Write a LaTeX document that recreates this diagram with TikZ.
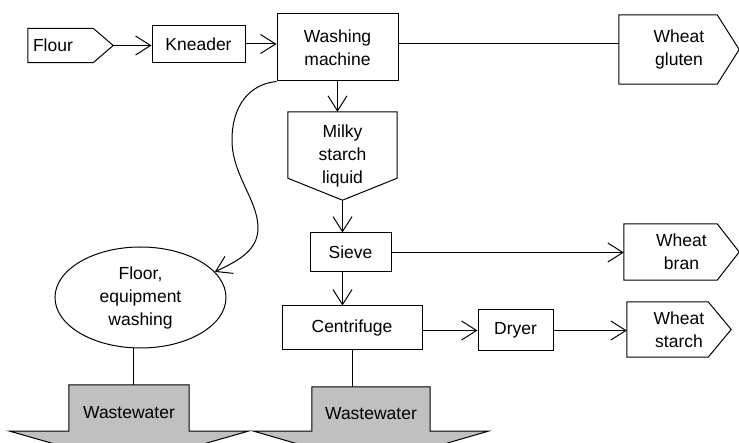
\documentclass[tikz,border=0pt]{standalone}
\usepackage{fontspec}
\setmainfont{Liberation Sans}
\usetikzlibrary{arrows.meta,calc,backgrounds,shapes.geometric}
\definecolor{flowink}{HTML}{000000}
\definecolor{wastegray}{HTML}{C0C0C0}
\tikzset{
  flowtext/.style={font=\fontsize{17.5}{23}\selectfont, text=flowink, align=center, inner sep=0pt},
  unitbox/.style={flowtext, draw=flowink, line width=1pt},
  tagbox/.style={flowtext},
  drainbox/.style={flowtext, text height=22pt, text depth=0pt},
  ovalbox/.style={flowtext, ellipse, draw=flowink, line width=1pt},
  tagline/.style={draw=flowink, line width=1pt, line join=miter},
  wasteline/.style={draw=flowink, fill=wastegray, line width=1pt},
  flowline/.style={draw=flowink, line width=1pt},
  flowarrow/.style={-{Straight Barb[length=15pt, width=19pt]}, draw=flowink, line width=1pt}
}

\begin{document}
\begin{tikzpicture}[x=1pt,y=-1pt]
  \useasboundingbox (0,0) rectangle (739,443);
  % process units
  \node[tagbox, minimum width=85pt, minimum height=34pt, text width=75pt, align=left] (flour) at (70.5,45.5) {Flour};
  \node[unitbox, minimum width=93pt, minimum height=37pt] (kneader) at (198.5,44) {Kneader};
  \node[unitbox, minimum width=121pt, minimum height=67pt] (washing) at (337.5,47.5) {Washing\\machine};
  \node[tagbox, minimum width=120pt, minimum height=69pt] (gluten) at (679,49.5) {Wheat\\gluten};
  \node[tagbox, minimum width=109pt, minimum height=88pt] (milky) at (342.5,156) {Milky\\starch\\liquid};
  \node[unitbox, minimum width=81pt, minimum height=39pt] (sieve) at (350.5,252.5) {Sieve};
  \node[tagbox, minimum width=115pt, minimum height=56pt] (bran) at (681.5,252) {Wheat\\bran};
  \node[unitbox, minimum width=140pt, minimum height=44pt] (centrifuge) at (352,328) {Centrifuge};
  \node[unitbox, minimum width=75pt, minimum height=41pt] (dryer) at (515.5,330.5) {Dryer};
  \node[tagbox, minimum width=104pt, minimum height=55pt] (starch) at (679,329.5) {Wheat\\starch};
  \node[ovalbox, minimum width=171pt, minimum height=101pt] (floor) at (140.5,297.5) {Floor,\\equipment\\washing};
  \node[drainbox, minimum width=120pt, minimum height=46pt] (waste1) at (129,408) {Wastewater};
  \node[drainbox, minimum width=118pt, minimum height=44pt] (waste2) at (371,409) {Wastewater};

  % outlines of the in/out tags and drains
  \draw[tagline] (flour.north west) -- ($(flour.north east)+(-20,0)$) -- (flour.east)
    -- ($(flour.south east)+(-20,0)$) -- (flour.south west) -- cycle;
  \draw[tagline] (gluten.north west) -- ($(gluten.north east)+(-22,0)$) -- (gluten.east)
    -- ($(gluten.south east)+(-22,0)$) -- (gluten.south west) -- cycle;
  \draw[tagline] (bran.north west) -- ($(bran.north east)+(-22,0)$) -- (bran.east)
    -- ($(bran.south east)+(-22,0)$) -- (bran.south west) -- cycle;
  \draw[tagline] (starch.north west) -- ($(starch.north east)+(-23,0)$) -- (starch.east)
    -- ($(starch.south east)+(-23,0)$) -- (starch.south west) -- cycle;
  \draw[tagline] (milky.north west) -- (milky.north east) -- ($(milky.south east)+(0,-22)$)
    -- (milky.south) -- ($(milky.south west)+(0,-22)$) -- cycle;
  \begin{scope}[on background layer]
    \draw[wasteline] (waste1.north west) -- (waste1.north east) -- (waste1.south east) -- ++(59,0)
      -- ($(waste1.south)+(0,34)$) -- ($(waste1.south west)+(-59,0)$) -- (waste1.south west) -- cycle;
    \draw[wasteline] (waste2.north west) -- (waste2.north east) -- (waste2.south east) -- ++(58,0)
      -- ($(waste2.south)+(0,34)$) -- ($(waste2.south west)+(-58,0)$) -- (waste2.south west) -- cycle;
  \end{scope}

  % flows
  \draw[flowarrow] (flour.east) -- (flour.east -| kneader.west);
  \draw[flowarrow] (kneader.east) -- (kneader.east -| washing.west);
  \draw[flowline] (kneader.east -| washing.east) -- (kneader.east -| gluten.west);
  \draw[flowarrow] (washing.south) -- (washing.south |- milky.north);
  \draw[flowarrow] (milky.south) -- (milky.south |- sieve.north);
  \draw[flowarrow] (sieve.east) -- (sieve.east -| bran.west);
  \draw[flowarrow] (sieve.south -| milky.south) -- (centrifuge.north -| milky.south);
  \draw[flowarrow] (centrifuge.east |- dryer.west) -- (dryer.west);
  \draw[flowarrow] (dryer.east) -- (dryer.east -| starch.west);
  \draw[flowline] (centrifuge.south) -- (centrifuge.south |- waste2.north);
  \draw[flowline] (floor.262) -- (floor.262 |- waste1.north);
  \draw[flowarrow] (washing.south west) .. controls (250,84) and (232,105) .. (232,140)
    .. controls (232,175) and (258,200) .. (258,228)
    .. controls (258,252) and (235,262) .. (floor.19);
\end{tikzpicture}
\end{document}
